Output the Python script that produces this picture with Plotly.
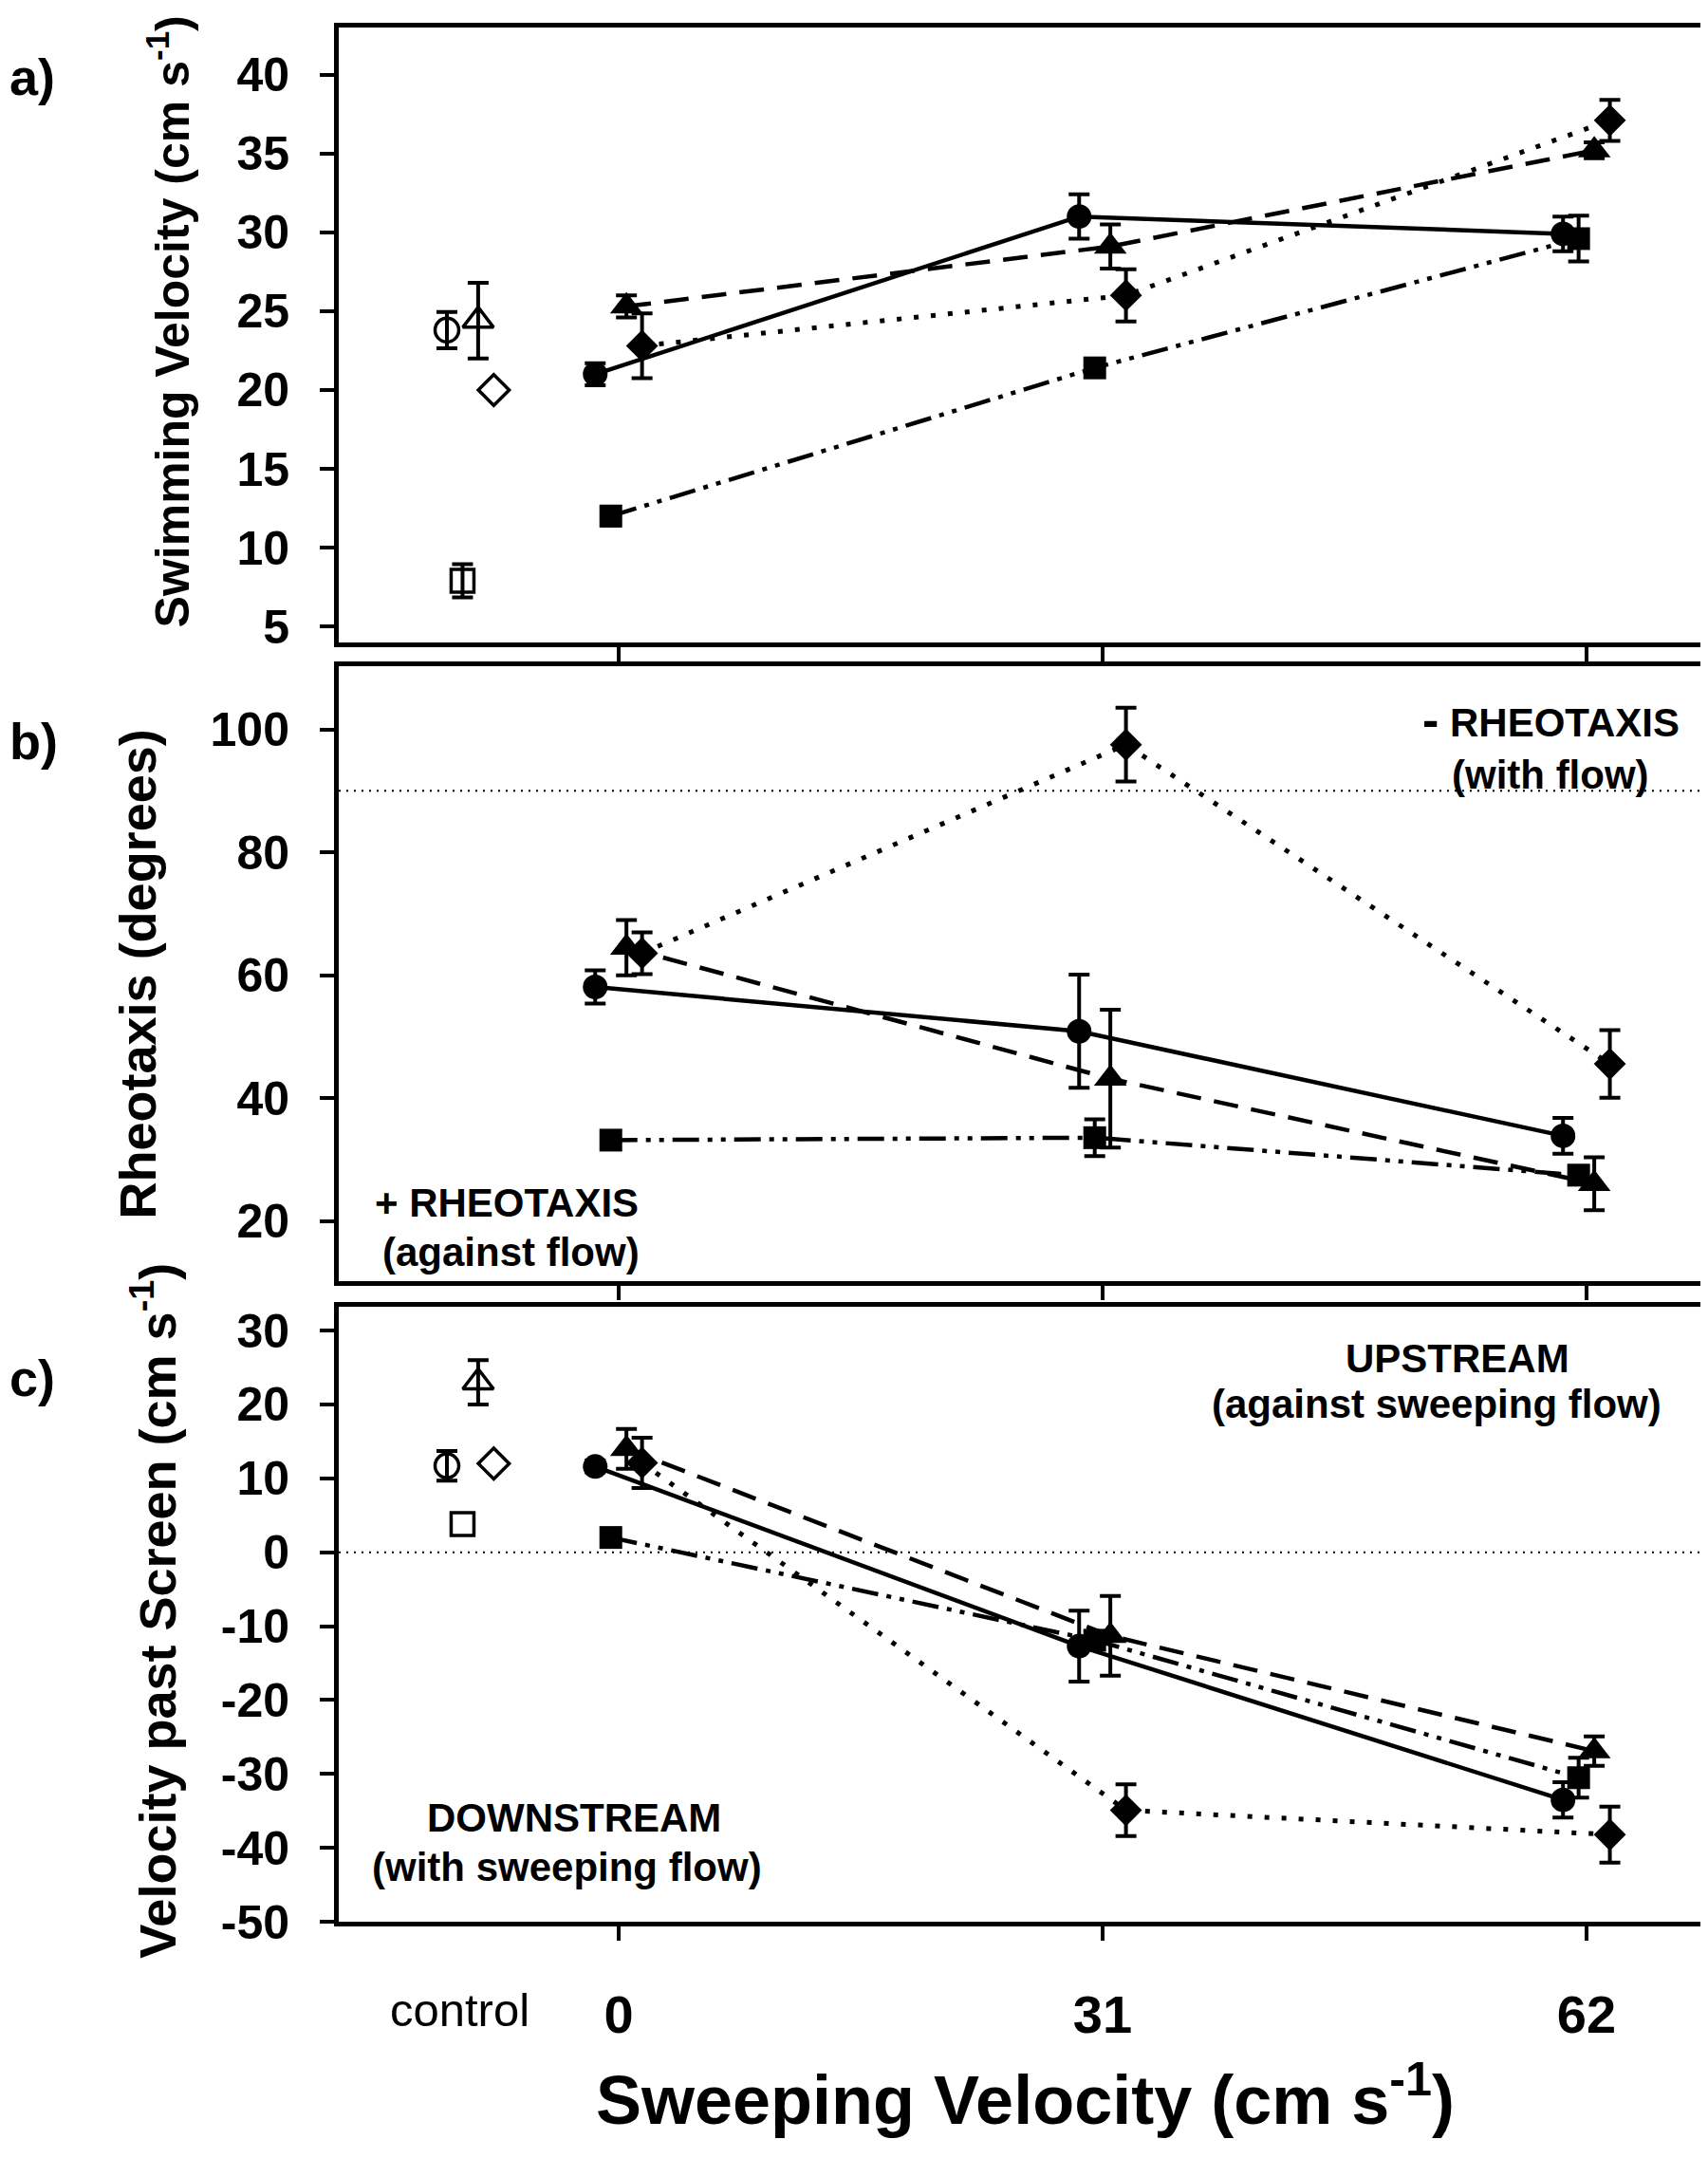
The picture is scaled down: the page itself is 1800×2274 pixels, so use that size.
import plotly.graph_objects as go

# ---------------- data ----------------
sweep = [0, 31, 62]
control_x = -9.5
series = ["circle", "square", "triangle", "diamond"]

# panel a: Swimming velocity (cm/s)
a_vals = {"circle": [21.0, 31.0, 29.9], "square": [12.0, 21.4, 29.6],
          "triangle": [25.3, 29.1, 35.2], "diamond": [22.8, 26.0, 37.1]}
a_errs = {"circle": [0.7, 1.4, 1.1], "square": [0.6, 0.4, 1.45],
          "triangle": [0.7, 1.4, 0.5], "diamond": [2.05, 1.65, 1.3]}
a_ctrl = {"circle": 23.8, "square": 7.9, "triangle": 24.4, "diamond": 20.0}
a_ctrl_err = {"circle": 1.15, "square": 1.05, "triangle": 2.4, "diamond": None}

# panel b: Rheotaxis (degrees)
b_vals = {"circle": [58.1, 50.9, 33.9], "square": [33.2, 33.6, 27.5],
          "triangle": [64.5, 43.2, 26.1], "diamond": [63.6, 97.5, 45.6]}
b_errs = {"circle": [2.7, 9.2, 2.9], "square": [1.0, 3.0, 1.5],
          "triangle": [4.5, 11.2, 4.3], "diamond": [3.4, 6.0, 5.5]}

# panel c: Velocity past screen (cm/s)
c_vals = {"circle": [11.6, -12.7, -33.5], "square": [2.0, -11.9, -30.5],
          "triangle": [14.0, -11.3, -26.9], "diamond": [12.1, -34.9, -38.2]}
c_errs = {"circle": [0.8, 4.8, 2.4], "square": [0.5, 1.0, 2.7],
          "triangle": [2.7, 5.4, 2.0], "diamond": [3.4, 3.5, 3.8]}
c_ctrl = {"circle": 11.7, "square": 3.8, "triangle": 23.0, "diamond": 12.0}
c_ctrl_err = {"circle": 2.0, "square": None, "triangle": 3.0, "diamond": None}

x_ticks = [0, 31, 62]
x_ticktext = ["0", "31", "62"]
a_yticks = [5, 10, 15, 20, 25, 30, 35, 40]
b_yticks = [20, 40, 60, 80, 100]
c_yticks = [-50, -40, -30, -20, -10, 0, 10, 20, 30]

# ---------------- styles ----------------
W, H = 1800, 2274
FONT = "Arial, 'Liberation Sans', sans-serif"
offset = {"circle": -1.5, "square": -0.5, "triangle": 0.5, "diamond": 1.5}
sym = {"circle": "circle", "square": "square", "triangle": "triangle-up", "diamond": "diamond"}
msize = {"circle": 26, "square": 24, "triangle": 30, "diamond": 26}
osize = {"circle": 25, "square": 24, "triangle": 28, "diamond": 25}
dash = {"circle": "solid", "square": "28px,9px,5px,9px,5px,9px",
        "triangle": "26px,14px", "diamond": "5px,13px"}
lw = {"circle": 4.5, "square": 4.5, "triangle": 4.5, "diamond": 5}

def px(xp):
    return xp / W

def py(yp):
    return (H - yp) / H

x_left, x_right = 349, 1795
panels = [(19, 676), (702, 1359), (1386, 2043)]

fig = go.Figure()

def add_panel(k, vals, errs, ctrl=None, ctrl_err=None):
    xa = "x" if k == 1 else f"x{k}"
    ya = "y" if k == 1 else f"y{k}"
    for s in series:
        fig.add_trace(go.Scatter(
            x=[v + offset[s] for v in sweep], y=vals[s],
            mode="lines+markers", xaxis=xa, yaxis=ya, showlegend=False,
            line=dict(color="black", width=lw[s], dash=dash[s]),
            marker=dict(symbol=sym[s], size=msize[s], color="black"),
            error_y=dict(type="data", array=errs[s], color="black", thickness=4, width=11),
        ))
        if ctrl is not None:
            e = ctrl_err[s]
            fig.add_trace(go.Scatter(
                x=[control_x + offset[s]], y=[ctrl[s]],
                mode="markers", xaxis=xa, yaxis=ya, showlegend=False,
                marker=dict(symbol=sym[s] + "-open", size=osize[s], color="black",
                            line=dict(color="black", width=3.5)),
                error_y=dict(type="data", array=[e if e else 0], color="black",
                             thickness=4, width=11, visible=e is not None),
            ))

add_panel(1, a_vals, a_errs, a_ctrl, a_ctrl_err)
add_panel(2, b_vals, b_errs)
add_panel(3, c_vals, c_errs, c_ctrl, c_ctrl_err)

xdom = [px(x_left), px(x_right)]
xrange = [-17.93, 69.97]
yranges = [[4.0, 43.0], [10.2, 110.2], [-50, 33.2]]
ytickvals = [a_yticks, b_yticks, c_yticks]

common_axis = dict(showline=True, linewidth=5, linecolor="black", mirror=True,
                   ticks="outside", ticklen=15, tickwidth=4, tickcolor="black",
                   showgrid=False, zeroline=False)

layout = dict(width=W, height=H, margin=dict(l=0, r=0, t=0, b=0),
              plot_bgcolor="white", paper_bgcolor="white",
              font=dict(family=FONT, color="black"))
for k in range(1, 4):
    top, bot = panels[k - 1]
    xk = "xaxis" if k == 1 else f"xaxis{k}"
    yk = "yaxis" if k == 1 else f"yaxis{k}"
    layout[xk] = dict(common_axis, domain=xdom, range=xrange,
                      anchor="y" if k == 1 else f"y{k}",
                      tickvals=x_ticks, ticktext=x_ticktext,
                      showticklabels=(k == 3), ticklabelstandoff=30,
                      tickfont=dict(size=56, family=FONT, weight="bold"))
    tv = ytickvals[k - 1]
    layout[yk] = dict(common_axis, domain=[py(bot), py(top)], range=yranges[k - 1],
                      anchor="x" if k == 1 else f"x{k}",
                      tickvals=tv, ticktext=[str(v) for v in tv], ticklabelstandoff=22,
                      tickfont=dict(size=50, family=FONT, weight="bold"))
fig.update_layout(**layout)

# reference dotted lines
fig.add_shape(type="line", xref="x2 domain", yref="y2", x0=0, x1=1, y0=90, y1=90,
              line=dict(color="black", width=2, dash="2px,6px"))
fig.add_shape(type="line", xref="x3 domain", yref="y3", x0=0, x1=1, y0=0, y1=0,
              line=dict(color="black", width=2, dash="2px,6px"))

def ann(text, x, y, size, xanchor="center", angle=0, bold=True, xref="paper"):
    fig.add_annotation(text=text, x=x, y=y, xref=xref, yref="paper",
                       xanchor=xanchor, yanchor="middle", textangle=angle,
                       showarrow=False,
                       font=dict(size=size, family=FONT, color="black",
                                 weight="bold" if bold else "normal"))

# y axis titles
ann("Swimming Velocity (cm s<sup>-1</sup>)", px(170), py(334), 50, angle=-90)
ann("Rheotaxis (degrees)", px(137), py(sum(panels[1]) / 2), 54, angle=-90)
ann("Velocity past Screen (cm s<sup>-1</sup>)", px(154), py(1711), 54, angle=-90)
# x axis title
ann("Sweeping Velocity (cm s<sup>-1</sup>)", px((x_left + x_right) / 2), py(2228), 72)
# control label
ann("control", -10.2, py(2137), 49, bold=False, xref="x3")
# panel labels
ann("a)", 0, py(72), 54, xanchor="left")
ann("b)", 0, py(782), 54, xanchor="left")
ann("c)", 0, py(1462), 54, xanchor="left")
# in-panel annotations
ann("<span style='font-size:52px'>-</span> RHEOTAXIS", px(1626), py(758), 42)
ann("(with flow)", px(1626), py(818), 42)
ann("+ RHEOTAXIS", px(526), py(1275), 42)
ann("(against flow)", px(530), py(1328), 42)
ann("UPSTREAM", px(1528), py(1441), 42)
ann("(against sweeping flow)", px(1506), py(1490), 42)
ann("DOWNSTREAM", px(597), py(1932), 42)
ann("(with sweeping flow)", px(589), py(1985), 42)

fig.write_html("out.html")
